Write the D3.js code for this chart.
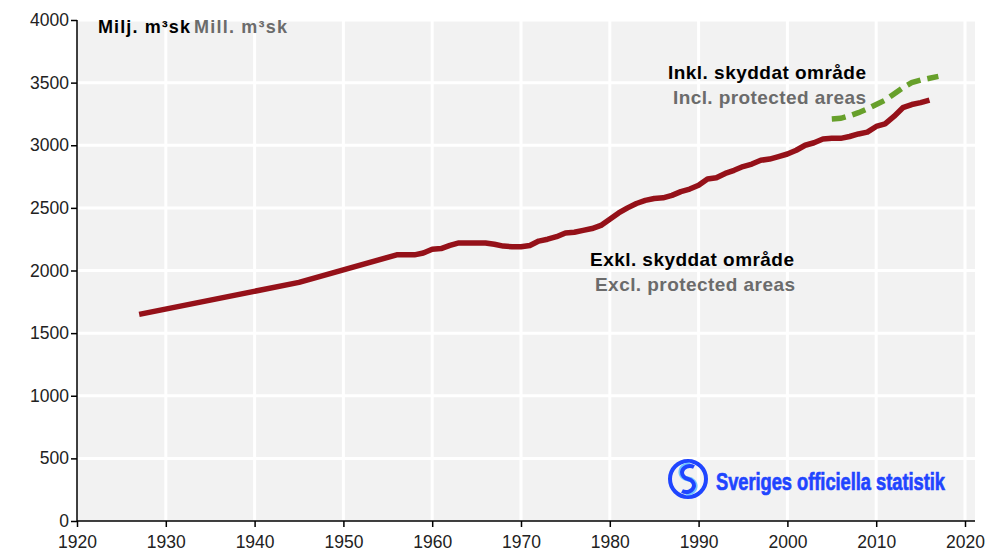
<!DOCTYPE html>
<html><head><meta charset="utf-8">
<script src="https://cdn.jsdelivr.net/npm/d3@7"></script>
<style>body{margin:0;background:#fff;}svg{display:block;font-family:"Liberation Sans",Arial,sans-serif;}</style>
</head><body><svg id="c" width="993" height="553"></svg>
<script>
const exclYears = [1927,1945,1956,1958,1959,1960,1961,1962,1963,1964,1965,1966,1967,1968,1969,1970,1971,1972,1973,1974,1975,1976,1977,1978,1979,1980,1981,1982,1983,1984,1985,1986,1987,1988,1989,1990,1991,1992,1993,1994,1995,1996,1997,1998,1999,2000,2001,2002,2003,2004,2005,2006,2007,2008,2009,2010,2011,2012,2013,2014,2015,2016];
const exclValues = [1650,1905,2125,2125,2140,2170,2175,2200,2220,2220,2220,2220,2210,2195,2190,2190,2200,2235,2250,2270,2300,2305,2320,2335,2360,2410,2460,2500,2535,2560,2575,2580,2600,2630,2650,2680,2730,2740,2775,2800,2830,2850,2880,2890,2910,2930,2960,3000,3020,3050,3055,3055,3070,3090,3105,3150,3170,3230,3300,3325,3340,3360];
const inclYears = [2005,2006,2007,2008,2009,2010,2011,2012,2013,2014,2015,2016,2017];
const inclValues = [3210,3215,3235,3260,3290,3325,3360,3410,3460,3500,3520,3535,3550];
const xTicks = [1920,1930,1940,1950,1960,1970,1980,1990,2000,2010,2020];
const yTicks = [0,500,1000,1500,2000,2500,3000,3500,4000];

const svg = d3.select("#c");
const L=77,R=975,T=20,B=521;
const x = d3.scaleLinear().domain([1920,2020]).range([L,965]);
const y = d3.scaleLinear().domain([0,4000]).range([B,T]);

svg.append("rect").attr("x",L).attr("y",T).attr("width",R-L).attr("height",B-T).attr("fill","#f2f2f2");
svg.append("g").selectAll("line").data(xTicks.slice(1)).join("line")
  .attr("x1",d=>x(d)).attr("x2",d=>x(d)).attr("y1",T).attr("y2",B)
  .attr("stroke","#fff").attr("stroke-width",3);
svg.append("g").selectAll("line").data(yTicks.slice(1)).join("line")
  .attr("x1",L).attr("x2",R).attr("y1",d=>y(d)).attr("y2",d=>y(d))
  .attr("stroke","#fff").attr("stroke-width",3);

const xa = svg.append("g").attr("transform",`translate(0,${B})`)
  .call(d3.axisBottom(x).tickValues(xTicks).tickFormat(d3.format("d")).tickSize(6).tickSizeOuter(0));
xa.select(".domain").attr("d",`M${L},0H${R}`).attr("stroke","#000").attr("stroke-width",1.5);
xa.selectAll(".tick line").attr("stroke","#000").attr("stroke-width",1.5);
xa.selectAll("text").attr("font-size",17.5).attr("fill","#222").attr("dy","1.05em").attr("font-family","Liberation Sans, Arial, sans-serif");

const ya = svg.append("g").attr("transform",`translate(${L},0)`)
  .call(d3.axisLeft(y).tickValues(yTicks).tickFormat(d3.format("d")).tickSize(6).tickSizeOuter(0));
ya.select(".domain").attr("d",`M0,${T}V${B}`).attr("stroke","#000").attr("stroke-width",1.5);
ya.selectAll(".tick line").attr("stroke","#000").attr("stroke-width",1.5);
ya.selectAll("text").attr("font-size",17.5).attr("fill","#222").attr("x",-8).attr("font-family","Liberation Sans, Arial, sans-serif");

const line = d3.line().x(d=>x(d[0])).y(d=>y(d[1]));
svg.append("path").datum(exclYears.map((d,i)=>[d,exclValues[i]]))
  .attr("d",line).attr("fill","none").attr("stroke","#951119").attr("stroke-width",5.5).attr("stroke-linejoin","round");
svg.append("path").datum(inclYears.map((d,i)=>[d,inclValues[i]]))
  .attr("d",line).attr("fill","none").attr("stroke","#67a02b").attr("stroke-width",5.5).attr("stroke-dasharray","14,7");

function txt(x0,y0,w,s,col,size){
  return svg.append("text").attr("x",x0).attr("y",y0).attr("font-size",size).attr("font-weight","bold")
    .attr("fill",col).attr("textLength",w).attr("lengthAdjust","spacing").text(s);
}
// unit label
txt(98,33,92,"Milj. m³sk","#000",18);
txt(194,33,93,"Mill. m³sk","#6b6b6b",18);

txt(668,79,198,"Inkl. skyddat område","#000",19);
txt(673,104,193,"Incl. protected areas","#6b6b6b",19);
txt(590,266,204,"Exkl. skyddat område","#000",19);
txt(595,291,200,"Excl. protected areas","#6b6b6b",19);

// logo
const lg = svg.append("g").attr("transform","translate(688,479)");
lg.append("circle").attr("r",18).attr("fill","none").attr("stroke","#1f45ff").attr("stroke-width",4);
lg.append("path").attr("d","M2,-14 A8,7 0 1 0 0,0 A8,7 0 1 1 -2,14").attr("fill","none").attr("stroke","#6fc4ff").attr("stroke-width",5);
lg.append("path").attr("d","M6,-12 A8,7 0 0 0 -6,-7 A8,7 0 0 0 0,0 A8,7 0 0 1 6,7 A8,7 0 0 1 -6,12").attr("fill","none").attr("stroke","#1f45ff").attr("stroke-width",4);
const logoT = svg.append("text").attr("font-size",23).attr("font-weight","bold")
  .attr("font-family","Liberation Sans Narrow, Liberation Sans, sans-serif")
  .attr("fill","#1f45ff").attr("stroke","#1f45ff").attr("stroke-width",0.7).text("Sveriges officiella statistik");
const w = logoT.node().getComputedTextLength();
logoT.attr("transform",`translate(716,490) scale(${229/w},1)`);
</script></body></html>
